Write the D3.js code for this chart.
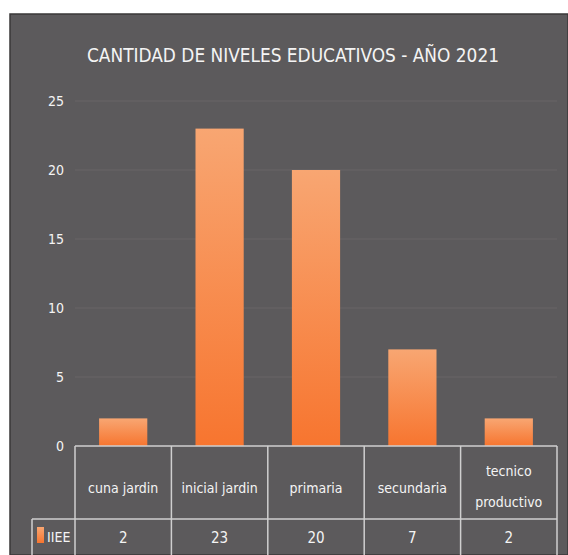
<!DOCTYPE html>
<html>
<head>
<meta charset="utf-8">
<script src="https://cdn.jsdelivr.net/npm/d3@7"></script>
<style>
	html, body { margin: 0; padding: 0; background: #fff; }
	svg { display: block; }
	text { font-family: "DejaVu Sans Condensed", "DejaVu Sans", sans-serif; font-stretch: condensed; fill: #f4f4f4; }
</style>
</head>
<body>
<div id="chart"></div>
<script>
/////////////////////////////////////////////////////////////////////////////
//// Data ///////////////////////////////////////////////////////////////////
/////////////////////////////////////////////////////////////////////////////

const categories = ["cuna jardin", "inicial jardin", "primaria", "secundaria", "tecnico productivo"];
const categoryLines = [["cuna jardin"], ["inicial jardin"], ["primaria"], ["secundaria"], ["tecnico", "productivo"]];
const values = [2, 23, 20, 7, 2];
const seriesName = "IIEE";
const yTicks = [0, 5, 10, 15, 20, 25];
const title = "CANTIDAD DE NIVELES EDUCATIVOS - AÑO 2021";

/////////////////////////////////////////////////////////////////////////////
//// Set up /////////////////////////////////////////////////////////////////
/////////////////////////////////////////////////////////////////////////////

const width = 568,
			height = 555;

const svg = d3.select("#chart").append("svg")
		.attr("width", width)
		.attr("height", height);

// Bar gradient (lighter at the top)
const grad = svg.append("defs").append("linearGradient")
		.attr("id", "barGrad")
		.attr("x1", 0).attr("y1", 0).attr("x2", 0).attr("y2", 1);
grad.append("stop").attr("offset", "0%").attr("stop-color", "#f8a672");
grad.append("stop").attr("offset", "100%").attr("stop-color", "#f7752f");

// Dark panel
svg.append("rect")
		.attr("x", 10)
		.attr("y", 14)
		.attr("width", width - 10)
		.attr("height", height - 14)
		.attr("fill", "#5c5a5c")
		.attr("stroke", "#3a3839")
		.attr("stroke-width", 1.5);

const x = d3.scaleBand()
		.domain(categories)
		.range([75, 557]);

const y = d3.scaleLinear()
		.domain([0, 25])
		.range([446, 101]);

// Gridlines (very faint in the original)
svg.append("g")
	.selectAll("line")
	.data(yTicks.slice(1))
	.enter().append("line")
		.attr("x1", 75)
		.attr("x2", 557)
		.attr("y1", d => y(d))
		.attr("y2", d => y(d))
		.attr("stroke", "#686567")
		.attr("stroke-width", 1);

// Y axis labels
const yAxis = svg.append("g")
		.attr("transform", "translate(64,0)")
		.call(d3.axisLeft(y).tickValues(yTicks).tickSize(0).tickPadding(0));
yAxis.select(".domain").remove();
yAxis.selectAll("text")
		.attr("dy", "0.35em")
		.style("font-family", null)
		.style("font-size", "14px")
		.style("fill", "#f4f4f4");
yAxis.attr("font-family", null);

// Bars
svg.append("g")
	.selectAll("rect")
	.data(values)
	.enter().append("rect")
		.attr("x", (d, i) => x(categories[i]) + x.bandwidth() * 0.25)
		.attr("width", x.bandwidth() * 0.5)
		.attr("y", d => y(d))
		.attr("height", d => y(0) - y(d))
		.attr("fill", "url(#barGrad)");

// Title
svg.append("text")
		.attr("x", 293)
		.attr("y", 62)
		.attr("text-anchor", "middle")
		.attr("textLength", 412)
		.attr("lengthAdjust", "spacingAndGlyphs")
		.style("font-size", "20px")
		.text(title);

/////////////////////////////////////////////////////////////////////////////
//// Data table /////////////////////////////////////////////////////////////
/////////////////////////////////////////////////////////////////////////////

const tableTop = 446,
			rowSplit = 519,
			tableLeft = 32,
			lineColor = "#cfcfcf";

const table = svg.append("g")
		.attr("stroke", lineColor)
		.attr("stroke-width", 1.5);

table.append("line").attr("x1", 75).attr("x2", 557).attr("y1", tableTop).attr("y2", tableTop);
table.append("line").attr("x1", tableLeft).attr("x2", 557).attr("y1", rowSplit).attr("y2", rowSplit);
table.append("line").attr("x1", tableLeft).attr("x2", tableLeft).attr("y1", rowSplit).attr("y2", height);

table.selectAll(".vline")
	.data(categories.concat(["end"]))
	.enter().append("line")
		.attr("class", "vline")
		.attr("x1", (d, i) => i < categories.length ? x(d) : x.range()[1])
		.attr("x2", (d, i) => i < categories.length ? x(d) : x.range()[1])
		.attr("y1", tableTop)
		.attr("y2", height);

// Header labels
const header = svg.append("g")
	.selectAll("text")
	.data(categoryLines)
	.enter().append("text")
		.attr("x", (d, i) => x(categories[i]) + x.bandwidth() / 2)
		.attr("y", d => d.length > 1 ? 476 : 493)
		.attr("text-anchor", "middle")
		.style("font-size", "14px");
header.selectAll("tspan")
	.data(d => d)
	.enter().append("tspan")
		.attr("x", function() { return this.parentNode.getAttribute("x"); })
		.attr("dy", (d, i) => i === 0 ? 0 : 31)
		.text(d => d);

// Value row
svg.append("g")
	.selectAll("text")
	.data(values)
	.enter().append("text")
		.attr("x", (d, i) => x(categories[i]) + x.bandwidth() / 2)
		.attr("y", 543)
		.attr("text-anchor", "middle")
		.style("font-size", "15px")
		.text(d => d);

// Legend key
svg.append("rect")
		.attr("x", 37)
		.attr("y", 527)
		.attr("width", 7)
		.attr("height", 16)
		.attr("fill", "url(#barGrad)");
svg.append("text")
		.attr("x", 47)
		.attr("y", 542)
		.style("font-size", "14px")
		.text(seriesName);
</script>
</body>
</html>
